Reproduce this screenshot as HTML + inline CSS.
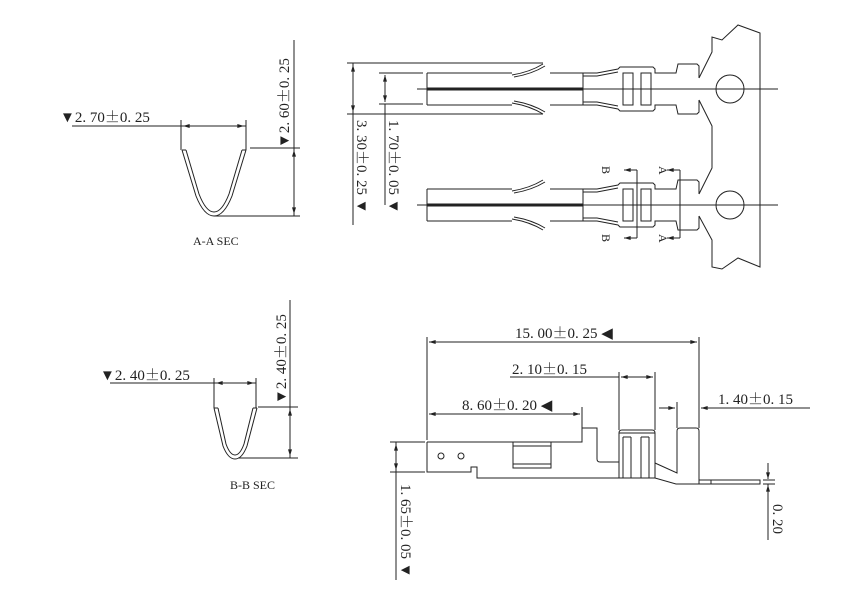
<!DOCTYPE html>
<html><head><style>
html,body{margin:0;padding:0;background:#fff;}
svg{display:block;}
text{font-family:"Liberation Serif",serif;fill:#222;}
.pm{font-family:"Noto Serif CJK SC","Noto Sans CJK SC",serif;}
</style></head><body>
<svg width="849" height="594" viewBox="0 0 849 594" xmlns="http://www.w3.org/2000/svg">
<defs>
<marker id="ar" viewBox="0 0 10 6" refX="10" refY="3" markerWidth="8" markerHeight="4" orient="auto-start-reverse"><path d="M0,0 L10,3 L0,6 z" fill="#222"/></marker>
<g id="term" fill="none" stroke="#222" stroke-width="1">
  <line x1="427" y1="73" x2="427" y2="105"/>
  <line x1="427" y1="73" x2="512" y2="73"/>
  <line x1="427" y1="105" x2="512" y2="105"/>
  <line x1="427" y1="89" x2="583" y2="89" stroke-width="3"/>
  <path d="M512,75 Q530,72 543,64 M514,77 Q532,74 545,66"/>
  <path d="M512,103 Q530,106 543,114 M514,101 Q532,104 545,112"/>
  <path d="M550,73 L583,73 L583,105 L550,105"/>
  <path d="M583,73 L597,73 L618,69 L620,67 L653,67 L655,69 L655,73 L676,73 L678,64 L697,64 L699,66 L699,78"/>
  <path d="M583,105 L597,105 L618,109 L620,111 L653,111 L655,109 L655,105 L676,105 L678,114 L697,114 L699,112 L699,100"/>
  <path d="M583,76 L597,76 L618,72 M583,102 L597,102 L618,106"/>
  <rect x="623" y="73" width="10" height="32"/>
  <rect x="641" y="73" width="10" height="32"/>
  <line x1="417" y1="89" x2="778" y2="89"/>
  <circle cx="730" cy="89" r="14"/>
</g>
</defs>

<!-- A-A section -->
<g fill="none" stroke="#222" stroke-width="1">
  <line x1="72" y1="126" x2="246" y2="126"/>
  <line x1="181" y1="120" x2="181" y2="150"/>
  <line x1="246" y1="120" x2="246" y2="150"/>
  <line x1="183" y1="126" x2="244" y2="126" marker-start="url(#ar)" marker-end="url(#ar)"/>
  <path d="M182,150 L196,196 Q204,216 214,216 Q224,216 232,196 L246,150"/>
  <path d="M186,150 L199,194 Q206,212 214,212 Q222,212 229,194 L242,150"/>
  <line x1="182" y1="150" x2="186" y2="150"/><line x1="242" y1="150" x2="246" y2="150"/>
  <line x1="250" y1="148" x2="300" y2="148"/>
  <line x1="214" y1="216" x2="300" y2="216"/>
  <line x1="294" y1="40" x2="294" y2="216"/>
  <line x1="294" y1="150" x2="294" y2="214" marker-start="url(#ar)" marker-end="url(#ar)"/>
</g>
<text x="60" y="122" font-size="15">▼2. 70<tspan class="pm">±</tspan>0. 25</text>
<text transform="translate(289,148) rotate(-90)" font-size="15">▼2. 60<tspan class="pm">±</tspan>0. 25</text>
<text x="193" y="245" font-size="12">A-A  SEC</text>

<!-- B-B section -->
<g fill="none" stroke="#222" stroke-width="1">
  <line x1="110" y1="383" x2="256" y2="383"/>
  <line x1="214" y1="378" x2="214" y2="408"/>
  <line x1="256" y1="378" x2="256" y2="408"/>
  <line x1="216" y1="383" x2="254" y2="383" marker-start="url(#ar)" marker-end="url(#ar)"/>
  <path d="M214,408 L223,446 Q228,459 235,459 Q242,459 247,446 L257,408"/>
  <path d="M218,408 L226,444 Q230,455 235,455 Q240,455 244,444 L253,408"/>
  <line x1="214" y1="408" x2="218" y2="408"/><line x1="253" y1="408" x2="257" y2="408"/>
  <line x1="258" y1="407" x2="298" y2="407"/>
  <line x1="238" y1="458" x2="298" y2="458"/>
  <line x1="290" y1="300" x2="290" y2="458"/>
  <line x1="290" y1="409" x2="290" y2="456" marker-start="url(#ar)" marker-end="url(#ar)"/>
</g>
<text x="100" y="380" font-size="15">▼2. 40<tspan class="pm">±</tspan>0. 25</text>
<text transform="translate(286,404) rotate(-90)" font-size="15">▼2. 40<tspan class="pm">±</tspan>0. 25</text>
<text x="230" y="489" font-size="12">B-B  SEC</text>

<!-- Top view -->
<use href="#term"/>
<use href="#term" transform="translate(0,116)"/>
<g fill="none" stroke="#222" stroke-width="1">
  <line x1="347" y1="63" x2="543" y2="63"/>
  <line x1="347" y1="114" x2="543" y2="114"/>
  <line x1="353" y1="65" x2="353" y2="112" marker-start="url(#ar)" marker-end="url(#ar)"/>
  <line x1="353" y1="63" x2="353" y2="225"/>
  <line x1="379" y1="73" x2="423" y2="73"/>
  <line x1="379" y1="104" x2="423" y2="104"/>
  <line x1="385" y1="75" x2="385" y2="102" marker-start="url(#ar)" marker-end="url(#ar)"/>
  <line x1="385" y1="104" x2="385" y2="205"/>
  <path d="M699,78 L712,52 L712,37 L722,40 L738,25 L760,33 L760,267 L738,258 L722,269 L712,267 L712,240 L699,216"/>
  <path d="M699,100 L712,126 L712,168 L699,194"/>
  <line x1="637" y1="170" x2="637" y2="238"/>
  <line x1="680" y1="170" x2="680" y2="238"/>
  <line x1="637" y1="170" x2="624" y2="170" marker-end="url(#ar)"/>
  <line x1="637" y1="238" x2="624" y2="238" marker-end="url(#ar)"/>
  <line x1="680" y1="170" x2="667" y2="170" marker-end="url(#ar)"/>
  <line x1="680" y1="238" x2="667" y2="238" marker-end="url(#ar)"/>
</g>
<text transform="translate(602,166) rotate(90)" font-size="12">B</text>
<text transform="translate(602,234) rotate(90)" font-size="12">B</text>
<text transform="translate(659,166) rotate(90)" font-size="12">A</text>
<text transform="translate(659,234) rotate(90)" font-size="12">A</text>
<text transform="translate(357,120) rotate(90)" font-size="15">3. 30<tspan class="pm">±</tspan>0. 25 ▼</text>
<text transform="translate(389,120) rotate(90)" font-size="15">1. 70<tspan class="pm">±</tspan>0. 05 ▼</text>

<!-- Side view -->
<g fill="none" stroke="#222" stroke-width="1">
  <line x1="427" y1="337" x2="427" y2="440"/>
  <line x1="699" y1="337" x2="699" y2="428"/>
  <line x1="429" y1="342" x2="697" y2="342" marker-start="url(#ar)" marker-end="url(#ar)"/>
  <line x1="510" y1="377" x2="619" y2="377"/>
  <line x1="619" y1="372" x2="619" y2="430"/>
  <line x1="655" y1="372" x2="655" y2="430"/>
  <line x1="621" y1="377" x2="653" y2="377" marker-start="url(#ar)" marker-end="url(#ar)"/>
  <line x1="429" y1="414" x2="580" y2="414" marker-start="url(#ar)" marker-end="url(#ar)"/>
  <line x1="582" y1="407" x2="582" y2="428"/>
  <line x1="677" y1="402" x2="677" y2="428"/>
  <line x1="659" y1="408" x2="675" y2="408" marker-end="url(#ar)"/>
  <line x1="810" y1="408" x2="701" y2="408" marker-end="url(#ar)"/>
  <path d="M427,442 L427,472 L471,472 L471,467 L477,467 L477,478 L655,478 L676,484 L699,484 L699,431 Q699,428 696,428 L680,428 Q677,428 677,431 L677,473 L655,463"/>
  <path d="M427,442 L582,442 L582,428 L597,428 L597,459 Q597,462 600,462 L619,462 L619,433 Q619,430 622,430 L652,430 Q655,430 655,433 L655,478"/>
  <line x1="619" y1="462" x2="619" y2="478"/>
  <line x1="619" y1="433" x2="655" y2="433"/>
  <line x1="623" y1="437" x2="623" y2="478"/><line x1="631" y1="437" x2="631" y2="478"/>
  <line x1="641" y1="437" x2="641" y2="478"/><line x1="649" y1="437" x2="649" y2="478"/>
  <line x1="623" y1="437" x2="631" y2="437"/><line x1="641" y1="437" x2="649" y2="437"/>
  <rect x="513" y="442" width="38" height="26"/>
  <line x1="513" y1="446" x2="551" y2="446"/>
  <line x1="513" y1="464" x2="551" y2="464"/>
  <circle cx="441" cy="456" r="3"/><circle cx="461" cy="456" r="3"/>
  <path d="M699,480 L760,480 L760,484 L699,484"/>
  <line x1="711" y1="480" x2="711" y2="484"/>
  <line x1="390" y1="442" x2="425" y2="442"/>
  <line x1="390" y1="472" x2="425" y2="472"/>
  <line x1="396" y1="442" x2="396" y2="580"/>
  <line x1="396" y1="444" x2="396" y2="470" marker-start="url(#ar)" marker-end="url(#ar)"/>
  <line x1="763" y1="480" x2="775" y2="480"/>
  <line x1="763" y1="484" x2="775" y2="484"/>
  <line x1="768" y1="463" x2="768" y2="479" marker-end="url(#ar)"/>
  <line x1="768" y1="500" x2="768" y2="485" marker-end="url(#ar)"/>
  <line x1="768" y1="484" x2="768" y2="540"/>
</g>
<text x="515" y="338" font-size="15">15. 00<tspan class="pm">±</tspan>0. 25 ◀</text>
<text x="512" y="374" font-size="15">2. 10<tspan class="pm">±</tspan>0. 15</text>
<text x="462" y="410" font-size="15">8. 60<tspan class="pm">±</tspan>0. 20 ◀</text>
<text x="718" y="404" font-size="15">1. 40<tspan class="pm">±</tspan>0. 15</text>
<text transform="translate(401,484) rotate(90)" font-size="15">1. 65<tspan class="pm">±</tspan>0. 05 ▼</text>
<text transform="translate(773,504) rotate(90)" font-size="15">0. 20</text>
</svg>
</body></html>
